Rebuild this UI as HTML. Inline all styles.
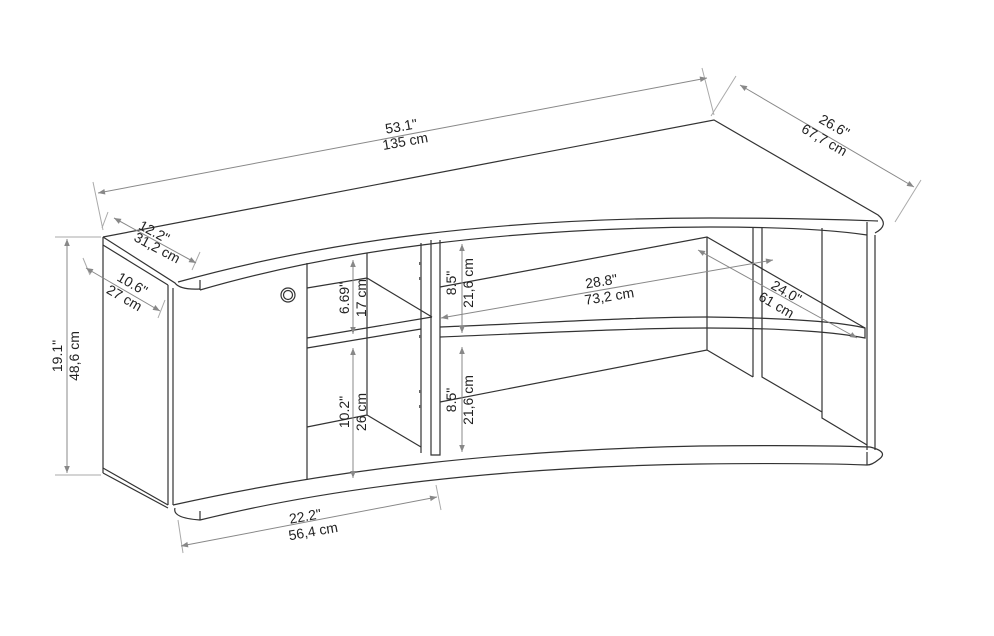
<!DOCTYPE html>
<html><head><meta charset="utf-8"><style>
html,body{margin:0;padding:0;background:#fff;}
svg{display:block}
text{font-family:"Liberation Sans",sans-serif;font-size:14px;fill:#222;text-anchor:middle}
.l{stroke:#333;stroke-width:1.2;fill:none}
.d{stroke:#888;stroke-width:1;fill:none}
.e{stroke:#aaa;stroke-width:1;fill:none}
</style></head><body>
<svg width="994" height="636" viewBox="0 0 994 636">
<defs><marker id="a" viewBox="0 0 10 10" refX="10" refY="5" markerWidth="9" markerHeight="7" orient="auto-start-reverse"><path d="M0,1 L10,5 L0,9 z" fill="#888"/></marker></defs>
<path class="l" d="M103,237 L714,120 L878,215 Q890,225 875,233"/>
<path class="l" d="M103,237 L175,283 Q180,290 200,289"/>
<path class="l" d="M103,245 L168,285"/>
<path class="l" d="M178,282 C330,240 500,218 710,218 C800,218 850,220 878,221"/>
<path class="l" d="M200,290 C330,252 500,228 710,227 C790,227 840,231 867,235"/>
<line class="l" x1="200" y1="280" x2="200" y2="290"/>
<line class="l" x1="867" y1="222" x2="867" y2="235"/>
<line class="l" x1="103" y1="237" x2="103" y2="473"/>
<line class="l" x1="168" y1="285" x2="168" y2="505"/>
<line class="l" x1="173" y1="288" x2="173" y2="505"/>
<path class="l" d="M103,468 L168,505 M103,473 L168,508"/>
<path class="l" d="M173,505 C330,470 500,450 700,446 C800,445 845,446 870,447 Q890,452 878,460 Q872,465 867,465"/>
<path class="l" d="M175,508 Q172,518 200,520 C330,488 500,467 700,464 C790,463 840,464 867,465"/>
<line class="l" x1="200" y1="511" x2="200" y2="520"/>
<line class="l" x1="867" y1="452" x2="867" y2="465"/>
<line class="l" x1="307" y1="263" x2="307" y2="480"/>
<circle cx="288" cy="295" r="7" class="l" stroke-width="2"/><circle cx="288" cy="295" r="4.5" class="l"/>
<path class="l" d="M307,288 L367,278 L432,317 M307,338 L432,317 M307,348 L421,329 M367,253 L367,415 M307,427 L367,415 L421,447"/>
<path class="l" d="M421,243 L421,453 M431,240 L431,455 L440,455 L440,240"/>
<g fill="#666"><rect x="419" y="262" width="2" height="3"/><rect x="419" y="277" width="2" height="3"/><rect x="419" y="335" width="2" height="3"/><rect x="419" y="390" width="2" height="3"/><rect x="419" y="405" width="2" height="3"/></g>
<path class="l" d="M440,287 L707,237 L865,328"/>
<path class="l" d="M440,327 C560,322 640,317 707,317 C790,318 840,322 865,328 L865,338 C840,333 790,328 707,328 C640,328 560,332 440,337"/>
<path class="l" d="M440,402 L707,350 L753,377 M707,237 L707,350 M753,228 L753,377 M762,228 L762,377 L822,412 M822,228 L822,418 L867,445 M867,235 L867,450 M875,235 L875,450"/>
<path class="e" d="M93,182 L103,230 M702,68 L714,115 M736,76 L711,116 M921,180 L895,222 M108,212 L102,228 M200,252 L192,270 M83,258 L90,275 M165,300 L158,318 M55,237 L101,237 M55,475 L101,475 M178,520 L183,553 M436,485 L441,510"/>
<line class="d" x1="98" y1="193" x2="707" y2="78" marker-start="url(#a)" marker-end="url(#a)"/>
<line class="d" x1="740" y1="85" x2="914" y2="187" marker-start="url(#a)" marker-end="url(#a)"/>
<line class="d" x1="114" y1="218" x2="196" y2="263" marker-start="url(#a)" marker-end="url(#a)"/>
<line class="d" x1="86" y1="268" x2="160" y2="311" marker-start="url(#a)" marker-end="url(#a)"/>
<line class="d" x1="67" y1="239" x2="67" y2="473" marker-start="url(#a)" marker-end="url(#a)"/>
<line class="d" x1="181" y1="546" x2="437" y2="497" marker-start="url(#a)" marker-end="url(#a)"/>
<line class="d" x1="353" y1="260" x2="353" y2="334" marker-start="url(#a)" marker-end="url(#a)"/>
<line class="d" x1="353" y1="348" x2="353" y2="478" marker-start="url(#a)" marker-end="url(#a)"/>
<line class="d" x1="462" y1="244" x2="462" y2="333" marker-start="url(#a)" marker-end="url(#a)"/>
<line class="d" x1="462" y1="347" x2="462" y2="452" marker-start="url(#a)" marker-end="url(#a)"/>
<line class="d" x1="441" y1="318" x2="773" y2="260" marker-start="url(#a)" marker-end="url(#a)"/>
<line class="d" x1="698" y1="250" x2="857" y2="338" marker-start="url(#a)" marker-end="url(#a)"/>
<text transform="translate(402,131) rotate(-10)">53.1"</text>
<text transform="translate(406,146) rotate(-10)">135 cm</text>
<text transform="translate(832,130) rotate(30)">26.6"</text>
<text transform="translate(822,144) rotate(30)">67,7 cm</text>
<text transform="translate(152,236) rotate(28)">12.2"</text>
<text transform="translate(155,252) rotate(28)">31,2 cm</text>
<text transform="translate(130,288) rotate(30)">10.6"</text>
<text transform="translate(122,302) rotate(30)">27 cm</text>
<text transform="translate(62,356) rotate(-90)">19.1"</text>
<text transform="translate(79,356) rotate(-90)">48,6 cm</text>
<text transform="translate(306,521) rotate(-10)">22.2"</text>
<text transform="translate(314,536) rotate(-10)">56,4 cm</text>
<text transform="translate(349,298) rotate(-90)">6.69"</text>
<text transform="translate(366,298) rotate(-90)">17 cm</text>
<text transform="translate(349,412) rotate(-90)">10.2"</text>
<text transform="translate(366,412) rotate(-90)">26 cm</text>
<text transform="translate(456,283) rotate(-90)">8.5"</text>
<text transform="translate(473,283) rotate(-90)">21,6 cm</text>
<text transform="translate(456,400) rotate(-90)">8.5"</text>
<text transform="translate(473,400) rotate(-90)">21,6 cm</text>
<text transform="translate(602,286) rotate(-9)">28.8"</text>
<text transform="translate(610,301) rotate(-9)">73,2 cm</text>
<text transform="translate(784,296) rotate(30)">24.0"</text>
<text transform="translate(774,309) rotate(30)">61 cm</text>
</svg>
</body></html>
